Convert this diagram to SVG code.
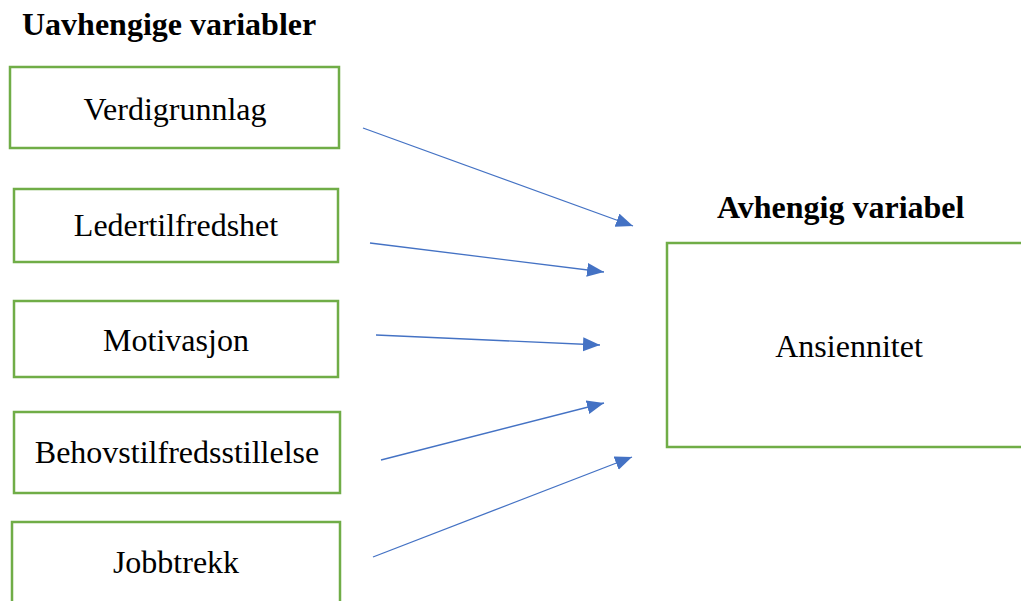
<svg xmlns="http://www.w3.org/2000/svg" width="1021" height="601" viewBox="0 0 1021 601">
<style>
.box{fill:#fff;stroke:#70AD47;stroke-width:2.5}
.t{font-family:"Liberation Serif","Times New Roman",serif;font-size:32px;fill:#000;text-anchor:middle}
.h{font-family:"Liberation Serif","Times New Roman",serif;font-size:32px;font-weight:bold;fill:#000}
.c{stroke:#4472C4;stroke-width:1.3;fill:none;marker-end:url(#ah)}
</style>
<defs>
<marker id="ah" markerUnits="userSpaceOnUse" markerWidth="18" markerHeight="16" refX="17" refY="7" orient="auto">
<path d="M0,0 L17,7 L0,14 Z" fill="#4472C4"/>
</marker>
</defs>
<rect width="1021" height="601" fill="#fff"/>
<text class="h" x="22" y="35">Uavhengige variabler</text>
<text class="h" x="717" y="218">Avhengig variabel</text>
<g id="n1"><rect class="box" x="10" y="67" width="329" height="81"/><text class="t" x="175" y="120">Verdigrunnlag</text></g>
<g id="n2"><rect class="box" x="14" y="189" width="324" height="73"/><text class="t" x="176" y="236">Ledertilfredshet</text></g>
<g id="n3"><rect class="box" x="14" y="301" width="324" height="76"/><text class="t" x="176" y="351">Motivasjon</text></g>
<g id="n4"><rect class="box" x="14" y="412" width="326" height="81"/><text class="t" x="177" y="463">Behovstilfredsstillelse</text></g>
<g id="n5"><rect class="box" x="12" y="522" width="328" height="90"/><text class="t" x="176" y="573">Jobbtrekk</text></g>
<g id="n6"><rect class="box" x="667" y="243" width="370" height="204"/><text class="t" x="849" y="357">Ansiennitet</text></g>
<g id="connectors">
<line class="c" x1="363" y1="128" x2="633" y2="226"/>
<line class="c" x1="370" y1="243" x2="604" y2="272"/>
<line class="c" x1="376" y1="335" x2="600" y2="345"/>
<line class="c" x1="381" y1="460" x2="604" y2="403"/>
<line class="c" x1="373" y1="557" x2="632" y2="457"/>
</g>
</svg>
